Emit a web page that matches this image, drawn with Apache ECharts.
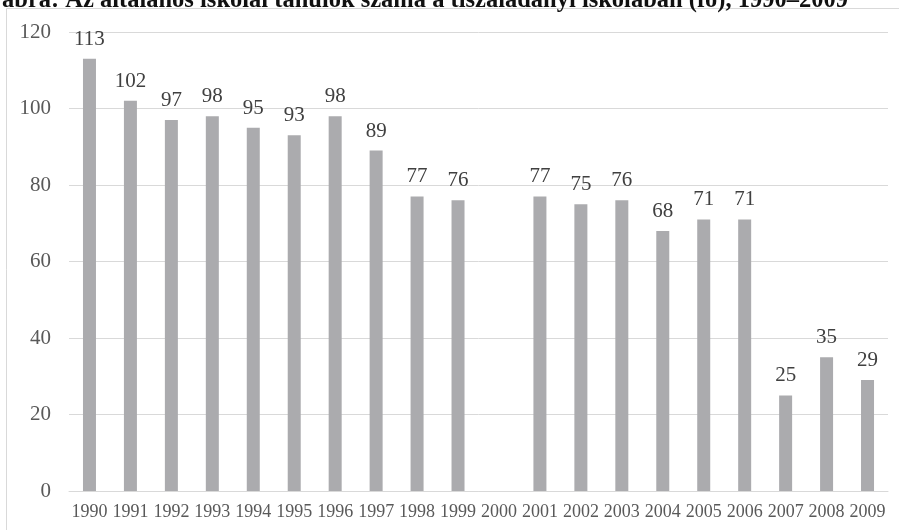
<!DOCTYPE html>
<html>
<head>
<meta charset="utf-8">
<script src="https://cdn.jsdelivr.net/npm/echarts@6/dist/echarts.min.js"></script>
<style>html,body{margin:0;padding:0;background:#fff;}#c{width:899px;height:530px;}</style>
</head>
<body>
<div id="c"></div>
<script>
var titleText = 'ábra: Az általános iskolai tanulók száma a tiszaladányi iskolában (fő), 1990–2009';
var categories = ['1990','1991','1992','1993','1994','1995','1996','1997','1998','1999','2000','2001','2002','2003','2004','2005','2006','2007','2008','2009'];
var values = [113,102,97,98,95,93,98,89,77,76,null,77,75,76,68,71,71,25,35,29];
var yTicks = [0,20,40,60,80,100,120];

var chart = echarts.init(document.getElementById('c'), null, {renderer:'canvas'});
chart.setOption({
  animation: false,
  backgroundColor: '#fff',
  title: {
    text: titleText,
    left: -3,
    top: -17,
    textStyle: {fontFamily: 'Liberation Serif', fontWeight: 'bold', fontSize: 24.5, color: '#111'}
  },
  graphic: [{
    type: 'rect', z: -1, silent: true,
    shape: {x: 6.5, y: 8.5, width: 920, height: 540},
    style: {fill: 'none', stroke: '#d9d9d9', lineWidth: 1}
  }],
  grid: {left: 69, right: 11, top: 32, bottom: 39, containLabel: false},
  xAxis: {
    type: 'category',
    data: categories,
    axisLine: {show: true, lineStyle: {color: '#d9d9d9', width: 1}},
    axisTick: {show: false},
    axisLabel: {interval: 0, fontFamily: 'Liberation Serif', fontSize: 18, color: '#595959', margin: 12}
  },
  yAxis: {
    type: 'value',
    min: yTicks[0], max: yTicks[yTicks.length-1], interval: 20,
    axisLine: {show: false},
    axisTick: {show: false},
    splitLine: {lineStyle: {color: '#d9d9d9', width: 1}},
    axisLabel: {fontFamily: 'Liberation Serif', fontSize: 21, color: '#595959', margin: 18}
  },
  series: [{
    type: 'bar',
    data: values,
    barWidth: 13,
    itemStyle: {color: '#ababae'},
    label: {show: true, position: 'top', distance: 9, fontFamily: 'Liberation Serif', fontSize: 21, color: '#404040'}
  }]
});
</script>
</body>
</html>
